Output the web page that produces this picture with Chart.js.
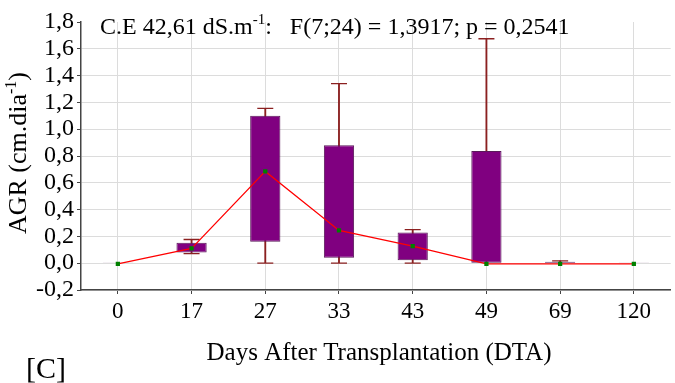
<!DOCTYPE html>
<html>
<head>
<meta charset="utf-8">
<script src="https://cdn.jsdelivr.net/npm/chart.js@4.4.1/dist/chart.umd.min.js"></script>
<style>
  html, body { margin: 0; padding: 0; background: #fff; overflow: hidden; }
  #wrap { width: 680px; height: 383px; position: relative; }
</style>
</head>
<body>
<div id="wrap"><canvas id="myChart"></canvas></div>
<script>
// datos
const categories = ['0', '17', '27', '33', '43', '49', '69', '120'];
const boxLow = [0, 0.08, 0.16, 0.04, 0.022, 0, 0, 0];
const boxHigh = [0.006, 0.152, 1.10, 0.88, 0.229, 0.838, 0.01, 0.006];
const whiskerMin = [0, 0.072, 0, 0, 0, 0, 0, 0];
const whiskerMax = [0, 0.177, 1.155, 1.34, 0.25, 1.675, 0.017, 0];
const capLow = [null, 0.072, 0, 0, 0, null, null, null];
const capHigh = [null, 0.177, 1.155, 1.34, 0.25, 1.675, 0.017, null];
const medians = [-0.005, 0.11, 0.685, 0.245, 0.127, -0.005, -0.005, -0.005];
const yTicks = { min: -0.2, max: 1.8, step: 0.2 };

const serif = "'Liberation Serif', 'Times New Roman', serif";

// texto con superindice
function drawSegments(ctx, parts, x, y, size) {
    let cx = x;
    parts.forEach(p => {
        if (p.sup) {
            ctx.font = Math.round(size * 0.62) + 'px ' + serif;
            ctx.fillText(p.t, cx, y - size * 0.4);
        } else {
            ctx.font = size + 'px ' + serif;
            ctx.fillText(p.t, cx, y);
        }
        cx += ctx.measureText(p.t).width;
    });
    return cx - x;
}
function segWidth(ctx, parts, size) {
    let w = 0;
    parts.forEach(p => {
        ctx.font = (p.sup ? Math.round(size * 0.62) : size) + 'px ' + serif;
        w += ctx.measureText(p.t).width;
    });
    return w;
}

const textos = {
    id: 'textos',
    afterDraw(chart) {
        const ctx = chart.ctx;
        ctx.save();
        ctx.fillStyle = '#000';
        ctx.textBaseline = 'alphabetic';
        ctx.textAlign = 'left';
        // titulo dentro del area
        drawSegments(ctx, [
            { t: 'C.E 42,61 dS.m' }, { t: '-1', sup: true },
            { t: ':   F(7;24) = 1,3917; p = 0,2541' }
        ], 100, 34, 24);

        // titulo eje y
        const yParts = [{ t: 'AGR (cm.dia' }, { t: '-1', sup: true }, { t: ')' }];
        const wy = segWidth(ctx, yParts, 26);
        ctx.save();
        ctx.translate(26, 153);
        ctx.rotate(-Math.PI / 2);
        drawSegments(ctx, yParts, -wy / 2, 0, 26);
        ctx.restore();

        // titulo eje x
        ctx.font = '25px ' + serif;
        ctx.textAlign = 'center';
        ctx.fillText('Days After Transplantation (DTA)', 379, 360);

        ctx.textAlign = 'left';
        ctx.font = '30px ' + serif;
        ctx.fillText('[C]', 26, 378);
        ctx.restore();
    }
};

const ctx = document.getElementById('myChart');

new Chart(ctx, {
    type: 'bar',
    data: {
        labels: categories,
        datasets: [
            {
                type: 'line',
                label: 'Mediana',
                data: medians,
                borderColor: '#ff0000',
                borderWidth: 1.2,
                pointStyle: 'rect',
                pointRadius: 3,
                pointBackgroundColor: '#008000',
                pointBorderColor: '#008000',
                pointBorderWidth: 0,
                tension: 0,
                order: 1
            },
            {
                label: 'Caja',
                data: categories.map((c, i) => [boxLow[i], boxHigh[i]]),
                backgroundColor: '#800080',
                borderColor: '#5a1a5a',
                borderWidth: 1,
                borderSkipped: false,
                grouped: false,
                barPercentage: 0.41,
                categoryPercentage: 1,
                order: 2
            },
            {
                type: 'line',
                label: 'capHigh',
                data: capHigh,
                showLine: false,
                pointStyle: 'line',
                pointRadius: 8,
                pointBorderColor: '#8b2020',
                pointBorderWidth: 1.3,
                order: 3
            },
            {
                type: 'line',
                label: 'capLow',
                data: capLow,
                showLine: false,
                pointStyle: 'line',
                pointRadius: 8,
                pointBorderColor: '#8b2020',
                pointBorderWidth: 1.3,
                order: 3
            },
            {
                label: 'Bigote',
                data: categories.map((c, i) => [whiskerMin[i], whiskerMax[i]]),
                backgroundColor: '#8b2020',
                borderWidth: 0,
                grouped: false,
                barThickness: 1.2,
                order: 4
            }
        ]
    },
    options: {
        responsive: true,
        maintainAspectRatio: false,
        animation: false,
        layout: { padding: { top: 22, left: 0, right: 0, bottom: 0 } },
        plugins: {
            legend: { display: false },
            tooltip: { enabled: false }
        },
        scales: {
            x: {
                offset: true,
                grid: {
                    offset: false,
                    color: '#dcdcdc',
                    tickColor: '#444',
                    tickLength: 4
                },
                border: { color: '#444', width: 1.5 },
                ticks: {
                    autoSkip: false,
                    maxRotation: 0,
                    color: '#000',
                    font: { family: serif, size: 23 },
                    padding: 4
                },
                afterFit(scale) { scale.height = 93; }
            },
            y: {
                min: yTicks.min,
                max: yTicks.max,
                grid: {
                    color: c => (c.tick && Math.abs(c.tick.value - yTicks.max) < 1e-6) ? 'rgba(0,0,0,0)' : '#dcdcdc',
                    tickColor: '#444',
                    tickLength: 4
                },
                border: { color: '#444', width: 1.5 },
                ticks: {
                    autoSkip: false,
                    stepSize: yTicks.step,
                    color: '#000',
                    font: { family: serif, size: 24 },
                    padding: 3,
                    callback: v => v.toFixed(1).replace('.', ',')
                },
                afterFit(scale) { scale.width = 81; }
            }
        }
    },
    plugins: [textos]
});
</script>
</body>
</html>
